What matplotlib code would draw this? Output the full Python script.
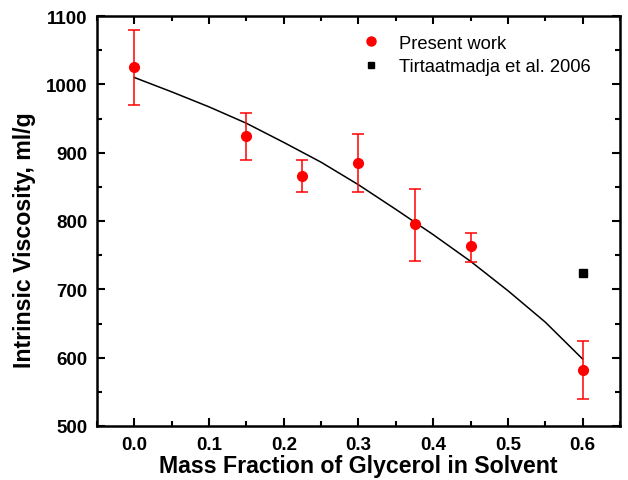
import numpy as np
import matplotlib.pyplot as plt
from matplotlib.ticker import MultipleLocator
from matplotlib.lines import Line2D

plt.rcParams['font.family'] = ['Liberation Sans', 'DejaVu Sans']

# present work, with error bars
glycerol = [0.0, 0.15, 0.225, 0.3, 0.375, 0.45, 0.6]
visc = [1025, 925, 866, 885, 795, 763, 582]
err_low = [970, 890, 842, 843, 742, 740, 540]
err_high = [1080, 958, 890, 927, 847, 783, 624]

# Tirtaatmadja et al. 2006
tirt_x = [0.6]
tirt_y = [724]

# fitted curve
fit_x = [0.0, 0.05, 0.1, 0.15, 0.2, 0.25, 0.3, 0.35, 0.4, 0.45, 0.5, 0.55, 0.6]
fit_y = [1010, 989, 967, 943, 915, 886, 853, 817, 780, 741, 698, 652, 598]

visc = np.array(visc)
yerr = [visc - np.array(err_low), np.array(err_high) - visc]

fig = plt.figure(figsize=(6.28, 4.81), dpi=100)
ax = fig.add_axes([97 / 628, 1 - 427 / 481, 523 / 628, 410 / 481])

ax.plot(fit_x, fit_y, color='black', lw=1.1, zorder=2)
ax.errorbar(glycerol, visc, yerr=yerr, fmt='o', color='red', ms=7,
            ecolor='red', elinewidth=1.1, capsize=4, capthick=1.1, zorder=3)
ax.plot(tirt_x, tirt_y, 's', color='black', ms=6, ls='none', zorder=3)

ax.set_xlim(-0.05, 0.65)
ax.set_ylim(500, 1100)
ax.xaxis.set_minor_locator(MultipleLocator(0.05))
ax.yaxis.set_major_locator(MultipleLocator(100))
ax.yaxis.set_minor_locator(MultipleLocator(50))
ax.set_xticks([0.0, 0.1, 0.2, 0.3, 0.4, 0.5, 0.6])
ax.set_xticklabels(['0.0', '0.1', '0.2', '0.3', '0.4', '0.5', '0.6'])
ax.tick_params(which='both', direction='in', top=True, right=True, width=1.5)
ax.tick_params(which='major', length=6, labelsize=13.5, pad=7)
ax.tick_params(which='minor', length=3.5)
for lab in ax.get_xticklabels() + ax.get_yticklabels():
    lab.set_fontweight('bold')
for sp in ax.spines.values():
    sp.set_linewidth(1.8)

ax.set_xlabel('Mass Fraction of Glycerol in Solvent', fontsize=16.7, fontweight='bold', labelpad=1)
ax.set_ylabel('Intrinsic Viscosity, ml/g', fontsize=16.7, fontweight='bold')
ax.yaxis.set_label_coords(-0.117, 0.455)

handles = [
    Line2D([], [], marker='o', color='red', ls='none', ms=6.5),
    Line2D([], [], marker='s', color='black', ls='none', ms=5),
]
ax.legend(handles, ['Present work', 'Tirtaatmadja et al. 2006'], loc='upper right',
          bbox_to_anchor=(0.975, 0.995), frameon=False, fontsize=13.2,
          handletextpad=0.8, borderaxespad=0.5, handlelength=1.4, labelspacing=0.35)

fig.savefig('out.png', dpi=100)
